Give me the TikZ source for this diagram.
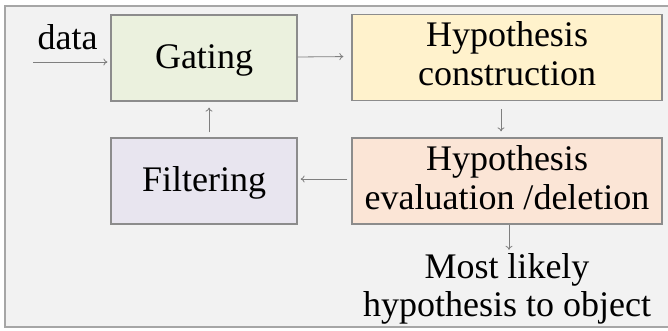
\documentclass[tikz,border=0pt]{standalone}
\usepackage{fontspec}
\setmainfont{Liberation Serif}
\usetikzlibrary{arrows.meta}
\definecolor{panelbg}{HTML}{F2F2F2}
\definecolor{panelline}{HTML}{A6A6A6}
\definecolor{boxline}{HTML}{8C8C8C}
\definecolor{arrline}{HTML}{7F7F7F}
\definecolor{gatefill}{HTML}{EBF1DE}
\definecolor{constfill}{HTML}{FFF2CC}
\definecolor{evalfill}{HTML}{FBE5D6}
\definecolor{filtfill}{HTML}{E8E5EF}
\newcommand{\topstrut}{\rule{0pt}{26pt}}
\newcommand{\botstrut}{\rule[-8pt]{0pt}{8pt}}
\tikzset{
  stagebox/.style={draw=boxline, line width=1.2pt, inner sep=0pt, align=center,
    font=\fontsize{36}{39}\selectfont},
  smallbox/.style={stagebox, minimum width=186pt, minimum height=86pt, text height=29pt, text depth=8pt},
  widebox/.style={stagebox, minimum width=310pt, minimum height=86pt},
  flowarrow/.style={draw=arrline, line width=0.8pt, -{To[length=4pt,width=7pt]}},
  plaintext/.style={inner sep=0pt, align=center, font=\fontsize{36}{38}\selectfont}
}
\begin{document}
\begin{tikzpicture}[x=1pt,y=-1pt]
\useasboundingbox (0,0) rectangle (668,331);
% panel
\fill[panelbg] (5,6) rectangle (668,327);
\draw[panelline, line width=1.5pt] (668,6) -- (5,6) -- (5,327) -- (668,327);
% nodes
\node[smallbox, fill=gatefill] (gating) at (204,58) {Gating};
\node[widebox, fill=constfill] (construct) at (507,57.5) {\topstrut Hypothesis\\construction\botstrut};
\node[widebox, fill=evalfill] (evaluate) at (507,181) {\topstrut Hypothesis\\evaluation /deletion\botstrut};
\node[smallbox, fill=filtfill] (filter) at (204,181) {Filtering};
\node[plaintext] (result) at (507,288) {\topstrut Most likely\\hypothesis to object\botstrut};
\node[plaintext, anchor=base] (datalbl) at (67.5,50) {data};
\coordinate (datain) at (33,62);
% connectors
\draw[flowarrow, shorten >=3pt] (datain) -- (datain -| gating.west);
\draw[flowarrow, shorten >=8pt] ([yshift=1pt]gating.east) -- ([yshift=1pt]construct.west);
\draw[flowarrow, shorten <=8pt, shorten >=6pt] ([xshift=-6pt]construct.south) -- ([xshift=-6pt]evaluate.north);
\draw[flowarrow, shorten <=4pt, shorten >=3pt] ([yshift=2pt]evaluate.west) -- ([yshift=2pt]filter.east);
\draw[flowarrow, shorten <=5pt, shorten >=6pt] ([xshift=5pt]filter.north) -- ([xshift=5pt]gating.south);
\draw[flowarrow, shorten >=2pt] ([xshift=2pt]evaluate.south) -- ([xshift=2pt]result.north);
\end{tikzpicture}
\end{document}
